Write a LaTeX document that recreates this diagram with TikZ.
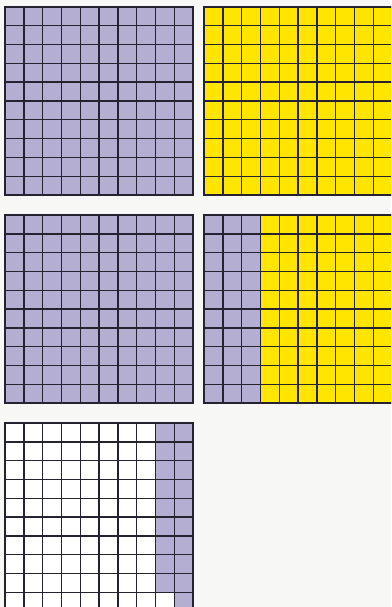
\documentclass[tikz,border=0pt]{standalone}
\definecolor{lav}{RGB}{180,174,210}
\definecolor{yel}{RGB}{255,229,0}
\definecolor{gridc}{RGB}{38,34,48}
\definecolor{paper}{RGB}{247,247,245}
\newcommand\mygridlines{%
  \foreach \i in {0,...,10}{%
    \draw[gridline] (\i*18.8,0) -- (\i*18.8,188);
    \draw[gridline] (0,\i*18.8) -- (188,\i*18.8);
  }%
}
\begin{document}
\begin{tikzpicture}[x=1pt,y=-1pt,
  gridline/.style={draw=gridc,line width=1.4pt,line cap=rect}]
\useasboundingbox (0,0) rectangle (391,607);
\clip (0,0) rectangle (391,607);
\fill[paper] (0,0) rectangle (391,607);
% grid 1: all lavender
\begin{scope}[shift={(5,7)}]
  \fill[lav] (0,0) rectangle (188,188);
  \mygridlines
\end{scope}
% grid 2: all yellow
\begin{scope}[shift={(204,7)}]
  \fill[yel] (0,0) rectangle (188,188);
  \mygridlines
\end{scope}
% grid 3: all lavender
\begin{scope}[shift={(5,215)}]
  \fill[lav] (0,0) rectangle (188,188);
  \mygridlines
\end{scope}
% grid 4: 3 lavender columns, 7 yellow
\begin{scope}[shift={(204,215)}]
  \fill[lav] (0,0) rectangle (3*18.8,188);
  \fill[yel] (3*18.8,0) rectangle (188,188);
  \mygridlines
\end{scope}
% grid 5: white with 19 lavender squares
\begin{scope}[shift={(5,423)}]
  \fill[white] (0,0) rectangle (188,188);
  \fill[lav] (8*18.8,0) rectangle (188,9*18.8);
  \fill[lav] (9*18.8,9*18.8) rectangle (188,188);
  \mygridlines
\end{scope}
\end{tikzpicture}
\end{document}
